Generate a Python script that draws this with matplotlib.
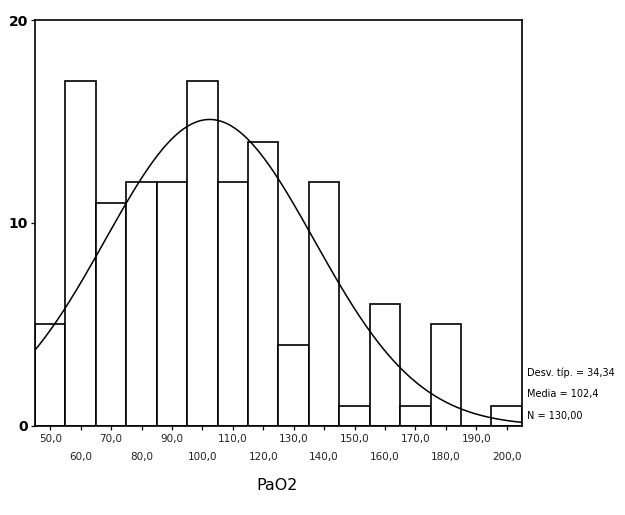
import numpy as np
import matplotlib
matplotlib.use("Agg")
import matplotlib.pyplot as plt

bin_centers = [50, 60, 70, 80, 90, 100, 110, 120, 130, 140, 150, 160, 170, 180, 190, 200]
counts = [5, 17, 11, 12, 12, 17, 12, 14, 4, 12, 1, 6, 1, 5, 0, 1]
tick_labels = ["50,0", "60,0", "70,0", "80,0", "90,0", "100,0", "110,0", "120,0",
               "130,0", "140,0", "150,0", "160,0", "170,0", "180,0", "190,0", "200,0"]
mean = 102.4
sd = 34.34
n = 130
bin_width = 10
stats_lines = ["Desv. típ. = 34,34", "Media = 102,4", "N = 130,00"]

fig = plt.figure(figsize=(6.25, 5.15), dpi=100)
ax = fig.add_axes([0.056, 0.173, 0.779, 0.788])

ax.bar(bin_centers, counts, width=bin_width, color="white", edgecolor="black", linewidth=1.2, zorder=2)

xs = np.linspace(45, 205, 400)
ys = n * bin_width / (sd * np.sqrt(2 * np.pi)) * np.exp(-0.5 * ((xs - mean) / sd) ** 2)
ax.plot(xs, ys, color="black", linewidth=1.1, zorder=3)

ax.set_xlim(45, 205)
ax.set_ylim(0, 20)
ax.set_xticks(bin_centers)
labels = [("\n" + l if i % 2 == 1 else l) for i, l in enumerate(tick_labels)]
ax.set_xticklabels(labels, fontsize=7.5, color="#222222", linespacing=1.95)
ax.tick_params(axis="x", length=3, width=0.9, pad=3)
ax.set_yticks([0, 10, 20])
ax.set_yticklabels(["0", "10", "20"], fontsize=10, fontweight="bold")
ax.tick_params(axis="y", length=3, width=0.9, pad=2)
for s in ax.spines.values():
    s.set_linewidth(1.2)

for i, t in enumerate(stats_lines):
    fig.text(0.843, 0.276 - i * 0.042, t, fontsize=7, va="center", ha="left")

fig.text(0.443, 0.058, "PaO2", fontsize=11.5, ha="center", va="center")

fig.savefig("out.png", dpi=100)
